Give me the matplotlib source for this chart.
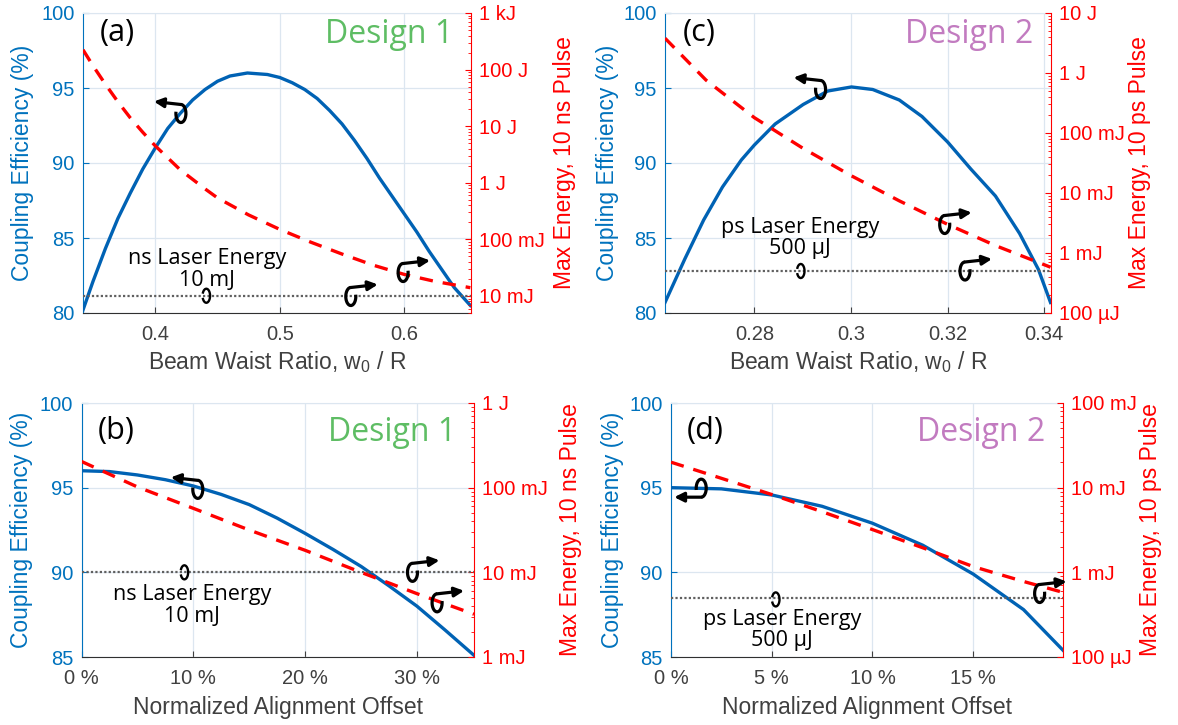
import matplotlib
matplotlib.use('Agg')
import matplotlib.pyplot as plt
from matplotlib.patches import Arc, FancyArrowPatch
from matplotlib.transforms import ScaledTranslation

plt.rcParams['font.family'] = ['Liberation Sans', 'DejaVu Sans']
ANN_FONT = ['Open Sans', 'DejaVu Sans']

BLUE = '#0062B4'
BLUE_TXT = '#0072BD'
RED = '#FF0000'
GRAY_TXT = '#404040'
GRID = '#DCE6F0'

# ---------------- data ----------------
# (a) Design 1, beam waist ratio
a_x = [0.342, 0.35, 0.36, 0.37, 0.38, 0.39, 0.40, 0.41, 0.42, 0.43, 0.44, 0.45,
       0.46, 0.474, 0.49, 0.50, 0.51, 0.52, 0.53, 0.54, 0.55, 0.56, 0.57, 0.58,
       0.59, 0.60, 0.61, 0.62, 0.63, 0.64, 0.653]
a_eff = [80.2, 82.1, 84.3, 86.3, 88.0, 89.6, 91.0, 92.3, 93.3, 94.2, 94.9, 95.45,
         95.8, 96.0, 95.9, 95.7, 95.35, 94.9, 94.3, 93.5, 92.6, 91.5, 90.3, 89.0,
         87.8, 86.6, 85.4, 84.1, 82.9, 81.7, 80.5]
a_ex = [0.342, 0.35, 0.36, 0.37, 0.38, 0.39, 0.40, 0.42, 0.44, 0.45, 0.475,
        0.50, 0.525, 0.55, 0.575, 0.60, 0.625, 0.653]
a_energy = [224, 117, 55, 27, 14, 7.8, 4.5, 1.7, 0.78, 0.54, 0.27,
            0.15, 0.089, 0.055, 0.035, 0.024, 0.018, 0.014]   # J
a_laser = 0.010  # J

# (c) Design 2, beam waist ratio
c_x = [0.2615, 0.2656, 0.2695, 0.2734, 0.2773, 0.2800, 0.2843, 0.2901, 0.2952,
       0.3001, 0.3045, 0.3100, 0.3147, 0.3200, 0.3248, 0.3299, 0.3349, 0.3388, 0.3413]
c_eff = [80.7, 83.6, 86.2, 88.4, 90.2, 91.2, 92.6, 93.9, 94.8,
         95.07, 94.9, 94.2, 93.1, 91.4, 89.6, 87.8, 85.3, 82.9, 80.7]
c_ex = [0.2615, 0.27, 0.28, 0.29, 0.30, 0.31, 0.32, 0.33, 0.3413]
c_energy = [3.8, 0.76, 0.18, 0.056, 0.0195, 0.0074, 0.0030, 0.00132, 0.00058]  # J
c_laser = 500e-6  # J

# (b) Design 1, alignment offset (%)
b_x = [0, 2.5, 5, 7.5, 10, 12.5, 15, 17.5, 20, 22.5, 25, 27.5, 30, 32.5, 35.1]
b_eff = [96.0, 95.95, 95.75, 95.47, 95.1, 94.6, 94.0, 93.2, 92.3, 91.35, 90.35,
         89.2, 88.0, 86.6, 85.1]
b_ex = [0, 5, 10, 15, 20, 25, 30, 35.1]
b_energy = [0.204, 0.102, 0.057, 0.0316, 0.0182, 0.0100, 0.0056, 0.0032]  # J
b_laser = 0.010

# (d) Design 2, alignment offset (%)
d_x = [0, 2.5, 5, 7.5, 10, 12.5, 15, 17.5, 19.46]
d_eff = [95.0, 94.93, 94.57, 93.9, 92.9, 91.6, 89.9, 87.8, 85.4]
d_energy = [0.0200, 0.0129, 0.0083, 0.0052, 0.0032, 0.00195, 0.00117, 0.00078, 0.00058]
d_laser = 500e-6

# tick labels
a_xticks = [0.4, 0.5, 0.6]
a_xticklabels = ['0.4', '0.5', '0.6']
c_xticks = [0.28, 0.30, 0.32, 0.34]
c_xticklabels = ['0.28', '0.3', '0.32', '0.34']
b_xticks = [0, 10, 20, 30]
b_xticklabels = ['0 %', '10 %', '20 %', '30 %']
d_xticks = [0, 5, 10, 15]
d_xticklabels = ['0 %', '5 %', '10 %', '15 %']

a_eticks = [1e-2, 1e-1, 1, 10, 100, 1000]
a_elabels = ['10 mJ', '100 mJ', '1 J', '10 J', '100 J', '1 kJ']
c_eticks = [1e-4, 1e-3, 1e-2, 1e-1, 1, 10]
c_elabels = ['100 µJ', '1 mJ', '10 mJ', '100 mJ', '1 J', '10 J']
b_eticks = [1e-3, 1e-2, 1e-1, 1]
b_elabels = ['1 mJ', '10 mJ', '100 mJ', '1 J']
d_eticks = [1e-4, 1e-3, 1e-2, 1e-1]
d_elabels = ['100 µJ', '1 mJ', '10 mJ', '100 mJ']

# curly-arrow markers: x, y (left-axis data), kind
a_marks = [(0.4206, 93.3, 'L'), (0.599, 82.7, 'R'), (0.557, 81.1, 'R'), (0.441, 81.15, 'N')]
c_marks = [(0.2937, 94.9, 'L'), (0.3194, 85.9, 'R'), (0.3236, 82.8, 'R'), (0.2896, 82.8, 'N')]
b_marks = [(10.4, 94.9, 'L'), (29.6, 90.0, 'R'), (31.8, 88.2, 'R'), (9.2, 90.0, 'N')]
d_marks = [(1.5, 94.97, 'Lb'), (18.3, 88.75, 'R'), (5.2, 88.4, 'N')]

W, H = 1178, 725
fig = plt.figure(figsize=(W / 100, H / 100), dpi=100)


def px_axes(l, r, t, b):
    return [l / W, 1 - b / H, (r - l) / W, (b - t) / H]


def add_mark(ax, x, y, kind):
    tr = fig.dpi_scale_trans + ScaledTranslation(x, y, ax.transData)
    if kind == 'N':
        w, h = 0.075, 0.14
        arc = Arc((0, 0), w, h, theta1=-150, theta2=150, transform=tr, color='black', lw=1.7)
        fig.add_artist(arc)
        return
    w, h = 0.10, 0.18
    if kind == 'R':
        arc = Arc((0, 0), w, h, theta1=90, theta2=380, transform=tr, color='black', lw=2.3)
        start, end = (0, h / 2), (0.27, h / 2 + 0.03)
    elif kind == 'L':
        arc = Arc((0, 0), w, h, theta1=160, theta2=450, transform=tr, color='black', lw=2.3)
        start, end = (0, h / 2), (-0.27, h / 2 + 0.03)
    else:  # 'Lb' arrow leaving from bottom
        arc = Arc((0, 0), w, h, theta1=-90, theta2=200, transform=tr, color='black', lw=2.3)
        start, end = (0, -h / 2), (-0.27, -h / 2)
    fig.add_artist(arc)
    arr = FancyArrowPatch(start, end, transform=tr, arrowstyle='-|>', mutation_scale=14,
                          color='black', lw=2.3, shrinkA=0, shrinkB=0)
    fig.add_artist(arr)


def panel(rect, x, eff, ex, energy, laser, xlim, ylim_eff, ylim_e, xticks, xticklabels,
          eticks, elabels, xlabel, rlabel, letter, design, dcolor, marks,
          note, note_xy, lab_pos, design_y, letter_y):
    ax = fig.add_axes(rect)
    ax.set_xlim(*xlim)
    ax.set_ylim(*ylim_eff)
    ax.set_yticks(range(int(ylim_eff[0]), int(ylim_eff[1]) + 1, 5))
    ax.set_xticks(xticks)
    ax.set_xticklabels(xticklabels)
    ax.grid(True, color=GRID, lw=0.9)
    ax.set_axisbelow(True)
    ax.plot(x, eff, color=BLUE, lw=2.4, zorder=3)
    ax.tick_params(axis='y', colors=BLUE_TXT, labelsize=14.5, direction='in', length=4, pad=6)
    ax.tick_params(axis='x', colors=GRAY_TXT, labelsize=14.5, direction='in', length=4, pad=9)
    ax.spines['left'].set_color(BLUE_TXT)
    ax.spines['right'].set_visible(False)
    ax.spines['top'].set_color(GRID)
    ax.spines['bottom'].set_color('#303030')

    ax2 = ax.twinx()
    ax2.set_yscale('log')
    ax2.set_ylim(*ylim_e)
    ax2.plot(ex, energy, color=RED, lw=2.4, linestyle=(0, (4, 3)), zorder=3)
    ax2.axhline(laser, color='#606060', lw=1.6, linestyle=(0, (1, 1)), zorder=2)
    ax2.set_yticks(eticks)
    ax2.set_yticklabels(elabels)
    ax2.tick_params(axis='y', which='major', colors=RED, labelsize=14.5, direction='in', length=4, pad=6)
    ax2.tick_params(axis='y', which='minor', colors=RED, direction='in', length=2)
    for s in ('left', 'top', 'bottom'):
        ax2.spines[s].set_visible(False)
    ax2.spines['right'].set_color(RED)

    ax.text(lab_pos[0], 0.5, 'Coupling Efficiency (%)', transform=ax.transAxes, rotation=90,
            ha='center', va='center', color=BLUE_TXT, fontsize=16.5)
    ax.text(lab_pos[1], 0.5, rlabel, transform=ax.transAxes, rotation=90,
            ha='center', va='center', color=RED, fontsize=16.5)
    ax.text(0.5, lab_pos[2], xlabel, transform=ax.transAxes, ha='center', va='center',
            color=GRAY_TXT, fontsize=16.5)
    ax.text(0.088, letter_y, letter, transform=ax.transAxes, ha='center', va='center',
            fontsize=22, family=ANN_FONT, color='black')
    ax.text(0.955, design_y, design, transform=ax.transAxes, ha='right', va='center',
            fontsize=23, family=ANN_FONT, color=dcolor)
    ax.text(note_xy[0], note_xy[1], note, ha='center', va='center', fontsize=15.5,
            family=ANN_FONT, color='black', linespacing=1.05, zorder=5)
    for mx, my, kind in marks:
        add_mark(ax, mx, my, kind)
    return ax, ax2


xlab_bw = r'Beam Waist Ratio, w$_\mathregular{0}$ / R'
xlab_off = 'Normalized Alignment Offset'

panel(px_axes(83, 471, 13, 313), a_x, a_eff, a_ex, a_energy, a_laser,
      (0.342, 0.6535), (80, 100), (5e-3, 1e3), a_xticks, a_xticklabels,
      a_eticks, a_elabels, xlab_bw, 'Max Energy, 10 ns Pulse', '(a)', 'Design 1', '#5EBD64',
      a_marks, 'ns Laser Energy\n10 mJ', (0.4415, 82.9), (-0.157, 1.242, -0.163), 0.928, 0.933)

panel(px_axes(665, 1051, 13, 313), c_x, c_eff, c_ex, c_energy, c_laser,
      (0.2615, 0.3414), (80, 100), (1e-4, 10), c_xticks, c_xticklabels,
      c_eticks, c_elabels, xlab_bw, 'Max Energy, 10 ps Pulse', '(c)', 'Design 2', '#C27BC0',
      c_marks, 'ps Laser Energy\n500 µJ', (0.2894, 85.0), (-0.148, 1.23, -0.163), 0.928, 0.933)

panel(px_axes(81.5, 474, 403, 657), b_x, b_eff, b_ex, b_energy, b_laser,
      (0, 35.1), (85, 100), (1e-3, 1), b_xticks, b_xticklabels,
      b_eticks, b_elabels, xlab_off, 'Max Energy, 10 ns Pulse', '(b)', 'Design 1', '#5EBD64',
      b_marks, 'ns Laser Energy\n10 mJ', (9.9, 88.06), (-0.152, 1.245, -0.2), 0.882, 0.888)

panel(px_axes(671, 1063, 403, 657), d_x, d_eff, d_x, d_energy, d_laser,
      (0, 19.46), (85, 100), (1e-4, 0.1), d_xticks, d_xticklabels,
      d_eticks, d_elabels, xlab_off, 'Max Energy, 10 ps Pulse', '(d)', 'Design 2', '#C27BC0',
      d_marks, 'ps Laser Energy\n500 µJ', (5.5, 86.6), (-0.15, 1.222, -0.2), 0.882, 0.888)

fig.savefig('out.png', dpi=100)
